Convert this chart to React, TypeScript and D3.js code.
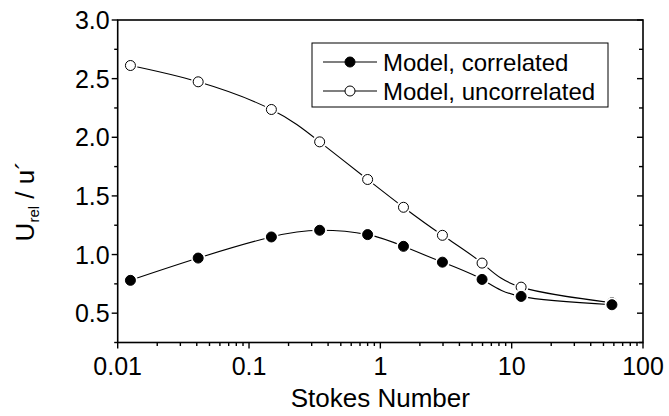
import React from "react";
import * as d3 from "d3";

// Stokes number at which the model was evaluated
const stokes = [0.0125, 0.041, 0.148, 0.345, 0.8, 1.5, 2.97, 5.95, 11.8, 58];
// Relative velocity, correlated model
const correlated = [0.78, 0.97, 1.15, 1.207, 1.17, 1.07, 0.935, 0.788, 0.643, 0.572];
// Relative velocity, uncorrelated model
const uncorrelated = [2.612, 2.473, 2.237, 1.961, 1.64, 1.403, 1.164, 0.927, 0.722, 0.589];

const xTicks = [0.01, 0.1, 1, 10, 100];
const xTickLabels = ["0.01", "0.1", "1", "10", "100"];
const yTicks = [0.5, 1.0, 1.5, 2.0, 2.5, 3.0];
const yMinor = [0.25, 0.75, 1.25, 1.75, 2.25, 2.75];

const legendLabels = ["Model, correlated", "Model, uncorrelated"];

const W = 669;
const H = 416;
const left = 117.7;
const right = 643;
const top = 20;
const bottom = 342.5;
const FONT = "'Liberation Sans', Arial, sans-serif";

export default function App() {
  const x = d3.scaleLog().domain([0.01, 100]).range([left, right]);
  const y = d3.scaleLinear().domain([0.25, 3.0]).range([bottom, top]);

  const line = d3
    .line<[number, number]>()
    .x((d) => x(d[0]))
    .y((d) => y(d[1]))
    .curve(d3.curveNatural);

  const corrPts = stokes.map((s, i) => [s, correlated[i]] as [number, number]);
  const uncPts = stokes.map((s, i) => [s, uncorrelated[i]] as [number, number]);

  // minor ticks on the log axis: 2..9 in every decade
  const xMinor: number[] = [];
  for (let e = -2; e < 2; e++) {
    for (let m = 2; m <= 9; m++) xMinor.push(m * Math.pow(10, e));
  }

  const r = 5;

  const markers = (pts: [number, number][], filled: boolean, key: string) =>
    pts.map((p, i) => (
      <g key={key + i}>
        <circle cx={x(p[0])} cy={y(p[1])} r={r + 2.2} fill="#fff" />
        <circle
          cx={x(p[0])}
          cy={y(p[1])}
          r={r}
          fill={filled ? "#000" : "#fff"}
          stroke="#000"
          strokeWidth={1}
        />
      </g>
    ));

  const legX = 312;
  const legY = 43;
  const legW = 296;
  const legH = 64;
  const rowY = [62, 91];

  return (
    <svg width={W} height={H} style={{ position: "absolute", left: 0, top: 0 }} fontFamily={FONT}>
      <rect x={0} y={0} width={W} height={H} fill="#fff" />

      {/* curves */}
      <path d={line(uncPts) ?? ""} fill="none" stroke="#000" strokeWidth={1.1} />
      <path d={line(corrPts) ?? ""} fill="none" stroke="#000" strokeWidth={1.1} />
      {markers(uncPts, false, "u")}
      {markers(corrPts, true, "c")}

      {/* frame */}
      <rect x={left} y={top} width={right - left} height={bottom - top} fill="none" stroke="#000" strokeWidth={1.6} />

      {/* left axis ticks (outward) and right axis ticks (inward) */}
      {yTicks.map((t) => (
        <g key={"yt" + t}>
          <line x1={left - 6} x2={left} y1={y(t)} y2={y(t)} stroke="#000" strokeWidth={1.4} />
          <line x1={right - 6} x2={right} y1={y(t)} y2={y(t)} stroke="#000" strokeWidth={1.4} />
          <text x={left - 8} y={y(t)} dy="0.36em" textAnchor="end" fontSize={25}>
            {t.toFixed(1)}
          </text>
        </g>
      ))}
      {yMinor.map((t) => (
        <g key={"ym" + t}>
          <line x1={left - 3.5} x2={left} y1={y(t)} y2={y(t)} stroke="#000" strokeWidth={1.4} />
          <line x1={right - 4} x2={right} y1={y(t)} y2={y(t)} stroke="#000" strokeWidth={1.4} />
        </g>
      ))}

      {/* bottom axis ticks */}
      {xTicks.map((t, i) => (
        <g key={"xt" + t}>
          <line x1={x(t)} x2={x(t)} y1={bottom} y2={bottom + 6} stroke="#000" strokeWidth={1.4} />
          <text x={x(t)} y={bottom + 32} textAnchor="middle" fontSize={25}>
            {xTickLabels[i]}
          </text>
        </g>
      ))}
      {xMinor.map((t) => (
        <line key={"xm" + t} x1={x(t)} x2={x(t)} y1={bottom} y2={bottom + 3.5} stroke="#000" strokeWidth={1.4} />
      ))}

      {/* axis titles */}
      <text x={(left + right) / 2} y={bottom + 64} textAnchor="middle" fontSize={26}>
        Stokes Number
      </text>
      <text transform={`translate(34, ${(top + bottom) / 2 + 20}) rotate(-90)`} textAnchor="middle" fontSize={26}>
        U
        <tspan fontSize={15} dy={5}>rel</tspan>
        <tspan dy={-5}> / u´</tspan>
      </text>

      {/* legend */}
      <rect x={legX} y={legY} width={legW} height={legH} fill="#fff" stroke="#000" strokeWidth={1} />
      {legendLabels.map((lab, i) => (
        <g key={lab}>
          <line x1={323} x2={377} y1={rowY[i]} y2={rowY[i]} stroke="#000" strokeWidth={1.1} />
          <circle cx={350} cy={rowY[i]} r={r} fill={i === 0 ? "#000" : "#fff"} stroke="#000" strokeWidth={1} />
          <text x={383} y={rowY[i]} dy="0.36em" fontSize={24}>
            {lab}
          </text>
        </g>
      ))}
    </svg>
  );
}
